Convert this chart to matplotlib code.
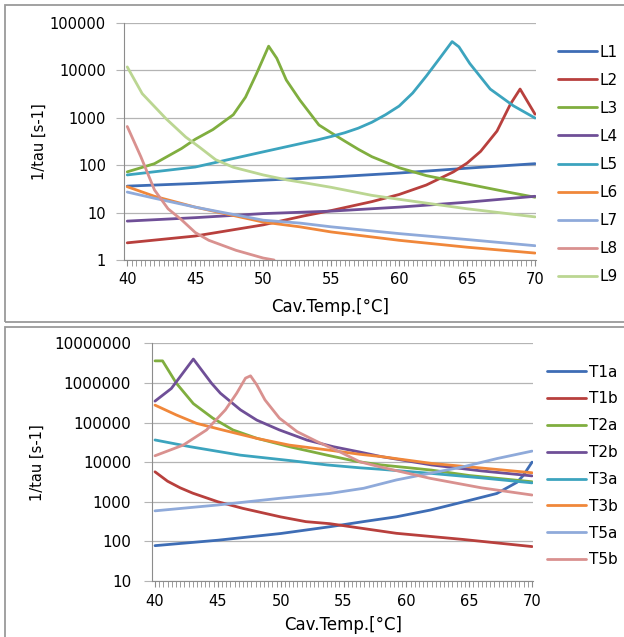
import matplotlib
matplotlib.use("Agg")
import matplotlib.pyplot as plt
from matplotlib.patches import Rectangle
from matplotlib.ticker import MultipleLocator

# ---------------------------------------------------------------
# Datos (1/tau en s-1 frente a Cav.Temp. en °C)
# ---------------------------------------------------------------
L1_x = [40, 45, 50, 55, 60, 65, 70]
L1_y = [36, 41, 48, 56, 68, 86, 107]
L2_x = [40, 45, 50, 53, 55, 58, 60, 62, 64, 65, 66, 67.2, 68.2, 68.9, 70]
L2_y = [2.3, 3.2, 5.5, 8.5, 11, 17, 24, 38, 72, 110, 195, 520, 1950, 4000, 1180]
L3_x = [40, 42, 44, 45, 46.3, 47.8, 48.7, 49.5, 50.4, 51, 51.7, 52.7, 54.1,
        55, 56, 57, 58, 60, 62, 65, 68, 70]
L3_y = [72, 107, 224, 350, 560, 1150, 2700, 8300, 32000, 17800, 6200, 2340, 700,
        480, 320, 215, 150, 88, 60, 40, 27, 21]
L4_x = [40, 45, 50, 55, 60, 65, 70]
L4_y = [6.6, 7.8, 9.5, 10.7, 13, 16.5, 22]
L5_x = [40, 45, 50, 54, 55, 56, 57, 58, 59, 60, 61, 62, 63, 63.9, 64.4, 65.2,
        66.7, 68.4, 70]
L5_y = [62, 91, 190, 340, 400, 480, 600, 800, 1150, 1750, 3300, 7500, 18000,
        40000, 31000, 13800, 4000, 1780, 980]
L6_x = [40, 42, 45, 50, 52.7, 55, 60, 65, 70]
L6_y = [35, 22, 13, 6.3, 5.0, 3.9, 2.6, 1.86, 1.4]
L7_x = [40, 42, 45, 50, 52.7, 55, 60, 65, 70]
L7_y = [27, 20, 13, 6.9, 6.0, 5.0, 3.6, 2.7, 2.0]
L8_x = [40, 41, 42, 43, 44, 45, 46, 48, 50, 50.8]
L8_y = [650, 150, 30, 12, 7, 3.8, 2.6, 1.6, 1.1, 1.0]
L9_x = [40, 41.1, 42.85, 44.3, 45.3, 46.5, 47.8, 50, 51.7, 52.7, 55, 58, 60, 65, 70]
L9_y = [11700, 3200, 950, 390, 240, 130, 90, 62, 49, 44, 34, 23, 19, 12, 8.1]

T1a_x = [40, 45, 50, 53.9, 56.6, 59.2, 61.9, 65.1, 67.2, 68.8, 69.3, 70]
T1a_y = [78, 107, 158, 234, 316, 417, 617, 1100, 1620, 3100, 4600, 10000]
T1b_x = [40, 41, 42, 43, 45, 47, 50, 52, 53.9, 59.2, 64.5, 70]
T1b_y = [5700, 3300, 2250, 1650, 1000, 680, 415, 315, 280, 160, 112, 74]
T2a_x = [40, 40.6, 41.7, 43.05, 44.6, 46.2, 48.1, 50.7, 53.7, 56, 58, 62, 65, 70]
T2a_y = [3.6e6, 3.6e6, 980e3, 300e3, 129e3, 65e3, 40e3, 24.5e3, 15e3, 10.5e3,
         8.5e3, 6.3e3, 4.6e3, 3.2e3]
T2b_x = [40, 41.3, 43.05, 44.5, 45.2, 46.8, 48.1, 49.9, 52.1, 54.2, 56.3, 58, 62, 66, 70]
T2b_y = [347e3, 724e3, 4.0e6, 977e3, 550e3, 209e3, 115e3, 65e3, 36e3, 24.5e3,
         18e3, 13.8e3, 8.5e3, 6.0e3, 4.5e3]
T3a_x = [40, 42.8, 46.8, 50.7, 53.7, 56.3, 58, 62, 66, 70]
T3a_y = [36300, 24500, 15000, 11000, 8500, 7200, 6600, 5200, 4000, 3000]
T3b_x = [40, 41.7, 43.3, 45.4, 48.1, 50.7, 53.7, 56.3, 58, 62, 66, 70]
T3b_y = [275e3, 155e3, 95.5e3, 64.6e3, 39.8e3, 26.9e3, 20.4e3, 15.8e3, 13.8e3,
         9.3e3, 7.1e3, 5.4e3]
T5a_x = [40, 45, 50, 53.9, 56.6, 59.2, 61.9, 64.5, 67.2, 70]
T5a_y = [590, 830, 1230, 1620, 2190, 3550, 5250, 7600, 12300, 19000]
T5b_x = [40, 42.25, 44.1, 45.6, 46.5, 47.2, 47.6, 48.1, 48.75, 49.9, 51.3, 52.9,
         54.7, 56.3, 57.9, 61.9, 66, 70]
T5b_y = [14.5e3, 27e3, 65e3, 209e3, 550e3, 1.32e6, 1.51e6, 891e3, 372e3, 129e3,
         59e3, 33e3, 18.2e3, 10.2e3, 7.6e3, 3.9e3, 2.24e3, 1.48e3]

top_names = ["L1", "L2", "L3", "L4", "L5", "L6", "L7", "L8", "L9"]
top_series = [(L1_x, L1_y), (L2_x, L2_y), (L3_x, L3_y), (L4_x, L4_y), (L5_x, L5_y),
              (L6_x, L6_y), (L7_x, L7_y), (L8_x, L8_y), (L9_x, L9_y)]
bot_names = ["T1a", "T1b", "T2a", "T2b", "T3a", "T3b", "T5a", "T5b"]
bot_series = [(T1a_x, T1a_y), (T1b_x, T1b_y), (T2a_x, T2a_y), (T2b_x, T2b_y),
              (T3a_x, T3a_y), (T3b_x, T3b_y), (T5a_x, T5a_y), (T5b_x, T5b_y)]

x_ticks = [40, 45, 50, 55, 60, 65, 70]
top_yticks = [1, 10, 100, 1000, 10000, 100000]
bot_yticks = [10, 100, 1000, 10000, 100000, 1000000, 10000000]

# paleta tipo Excel
COLS = ["#3E6DB5", "#B8403D", "#80AE3F", "#6F4F97", "#3CA4BE",
        "#F0873A", "#8FAADA", "#D9918F", "#BBD692"]
BOT_COLS = COLS[:8]

W, H = 624, 637
GRID = "#B4B4B4"
AXC = "#8C8C8C"
plt.rcParams["font.family"] = ["DejaVu Sans"]

fig = plt.figure(figsize=(W / 100, H / 100), dpi=100)


def px_axes(left, right, top, bottom):
    return fig.add_axes([left / W, 1 - bottom / H, (right - left) / W, (bottom - top) / H])


# marcos de los dos gráficos
for y0, y1 in [(5, 322), (327, 660)]:
    fig.add_artist(Rectangle((5 / W, 1 - y1 / H), 1.2, (y1 - y0) / H,
                             transform=fig.transFigure, fill=False,
                             edgecolor="#9A9A9A", lw=1.3))


def setup(ax, names, series, cols, yticks, ylim, ysize, ypad,
          leg_xy, xlab_y, ylab_x, lspace):
    for name, (xs, ys), c in zip(names, series, cols):
        ax.plot(xs, ys, color=c, lw=2.0, label=name, solid_capstyle="round")
    ax.set_yscale("log")
    ax.set_ylim(*ylim)
    ax.set_xlim(39.76, 70.1)
    ax.set_yticks(yticks)
    ax.set_yticklabels([str(v) for v in yticks])
    ax.minorticks_off()
    ax.set_xticks(x_ticks)
    ax.xaxis.set_minor_locator(MultipleLocator(1 / 3))
    ax.tick_params(axis="x", which="both", direction="out", length=4, color=AXC,
                   pad=5, labelsize=10.5)
    ax.tick_params(axis="y", which="both", direction="out", length=6, color=GRID,
                   pad=ypad, labelsize=ysize)
    ax.grid(axis="y", color=GRID, lw=0.9)
    ax.set_axisbelow(True)
    for s in ["top", "right"]:
        ax.spines[s].set_visible(False)
    for s in ["left", "bottom"]:
        ax.spines[s].set_color(AXC)
    ax.set_xlabel("Cav.Temp.[°C]", fontsize=12)
    ax.xaxis.set_label_coords(0.5, xlab_y)
    ax.set_ylabel("1/tau [s-1]", fontsize=10.5)
    ax.yaxis.set_label_coords(ylab_x, 0.5)
    ax.legend(loc="center left", bbox_to_anchor=leg_xy, frameon=False,
              fontsize=11, handlelength=2.55, handletextpad=0.2,
              labelspacing=lspace, borderpad=0, borderaxespad=0)


ax1 = px_axes(124, 536.4, 22.7, 260)
setup(ax1, top_names, top_series, COLS, top_yticks, (1, 100000), 10.5, 7,
      (1.052, 0.403), -0.16, -0.187, 0.855)

ax2 = px_axes(152, 533.3, 343.3, 581)
setup(ax2, bot_names, bot_series, BOT_COLS, bot_yticks, (10, 10000000), 11, 9,
      (1.036, 0.484), -0.147, -0.281, 0.775)

fig.savefig("out.png", dpi=100, facecolor="white")
